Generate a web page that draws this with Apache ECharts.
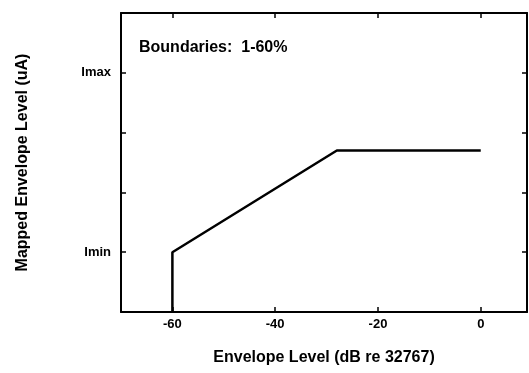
<!DOCTYPE html>
<html>
<head>
<meta charset="utf-8">
<style>
  html, body { margin: 0; padding: 0; background: #fff; }
  #chart { width: 529px; height: 373px; }
</style>
<script src="https://cdn.jsdelivr.net/npm/echarts@6/dist/echarts.min.js"></script>
</head>
<body>
<div id="chart"></div>
<script>
// Mapping function: envelope level (dB) -> stimulation current
const envelopeDb = [-60, -60, -28, 0];
const mappedLevel = [0, 1, 2.7, 2.7];

// Axis ticks and labels
const xTicks = [-60, -40, -20, 0];
const yTicks = [1, 2, 3, 4];
const yLabelValues = [1, 4];
const yLabelText = ['Imin', 'Imax'];

const FONT = '"Liberation Sans", Arial, Helvetica, sans-serif';
const INK = '#000';

const chart = echarts.init(document.getElementById('chart'), null, { renderer: 'canvas' });

const lineStyle = { color: INK, width: 2 };
const tickStyle = { show: true, inside: true, length: 5, lineStyle: { color: INK, width: 1.5 } };

chart.setOption({
  animation: false,
  backgroundColor: '#fff',
  title: {
    text: 'Boundaries:  1-60%',
    left: 134,
    top: 35,
    textStyle: { fontFamily: FONT, fontSize: 16, fontWeight: 'bold', color: INK }
  },
  grid: { left: 121, right: 2, top: 13, bottom: 61 },
  xAxis: [
    {
      type: 'value', position: 'bottom', min: -70, max: 9,
      name: 'Envelope Level (dB re 32767)', nameLocation: 'middle', nameGap: 38,
      nameTextStyle: { fontFamily: FONT, fontSize: 16, fontWeight: 'bold', color: INK },
      axisLine: { show: true, onZero: false, lineStyle: lineStyle },
      axisTick: Object.assign({ customValues: xTicks }, tickStyle),
      axisLabel: { customValues: xTicks, fontFamily: FONT, fontSize: 13, fontWeight: 'bold', color: INK, margin: 6 },
      splitLine: { show: false }
    },
    {
      type: 'value', position: 'top', min: -70, max: 9,
      axisLine: { show: true, onZero: false, lineStyle: lineStyle },
      axisTick: Object.assign({ customValues: xTicks }, tickStyle),
      axisLabel: { show: false },
      splitLine: { show: false }
    }
  ],
  yAxis: [
    {
      type: 'value', position: 'left', min: 0, max: 5,
      name: 'Mapped Envelope Level (uA)', nameLocation: 'middle', nameGap: 90,
      nameTextStyle: { fontFamily: FONT, fontSize: 16, fontWeight: 'bold', color: INK },
      axisLine: { show: true, onZero: false, lineStyle: lineStyle },
      axisTick: Object.assign({ customValues: yTicks }, tickStyle),
      axisLabel: {
        customValues: yLabelValues,
        formatter: v => yLabelText[yLabelValues.indexOf(v)],
        fontFamily: FONT, fontSize: 13, fontWeight: 'bold', color: INK, margin: 10
      },
      splitLine: { show: false }
    },
    {
      type: 'value', position: 'right', min: 0, max: 5,
      axisLine: { show: true, onZero: false, lineStyle: lineStyle },
      axisTick: Object.assign({ customValues: yTicks }, tickStyle),
      axisLabel: { show: false },
      splitLine: { show: false }
    }
  ],
  series: [
    {
      type: 'line',
      xAxisIndex: 0,
      yAxisIndex: 0,
      data: envelopeDb.map((x, i) => [x, mappedLevel[i]]),
      showSymbol: false,
      lineStyle: { color: INK, width: 2.5 },
      clip: false
    }
  ]
});
</script>
</body>
</html>
